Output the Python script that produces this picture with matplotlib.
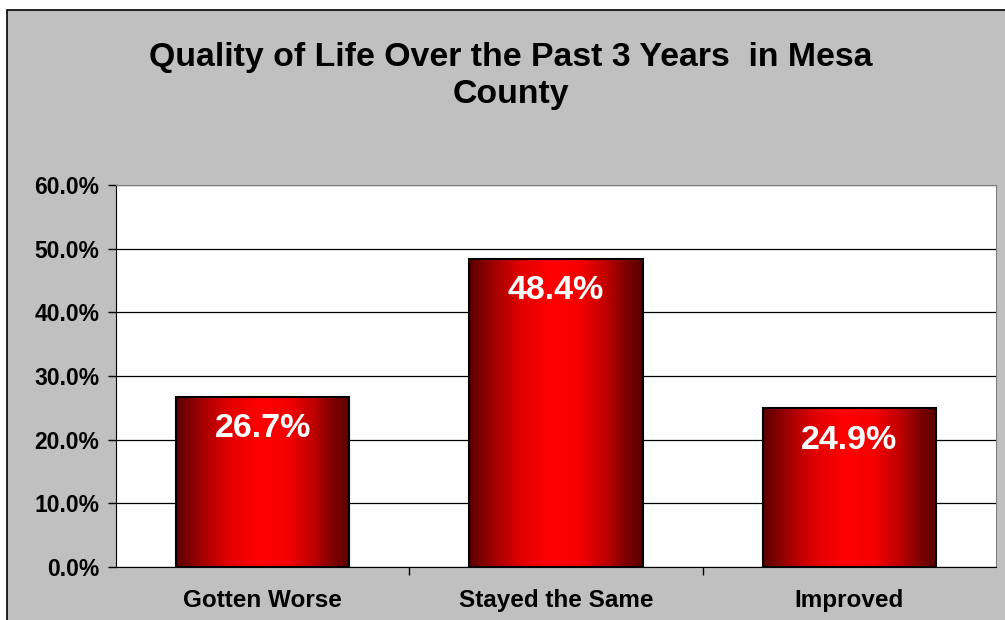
import numpy as np
import matplotlib
matplotlib.use('Agg')
from matplotlib import pyplot as plt
from matplotlib.colors import LinearSegmentedColormap
from matplotlib.patches import Rectangle

categories = ['Gotten Worse', 'Stayed the Same', 'Improved']
values = [26.7, 48.4, 24.9]
yticks = [0, 10, 20, 30, 40, 50, 60]
title = 'Quality of Life Over the Past 3 Years  in Mesa\nCounty'

plt.rcParams['font.family'] = ['Liberation Sans', 'DejaVu Sans']

fig = plt.figure(figsize=(10.05, 6.2), dpi=100)
fig.patch.set_facecolor('white')

# gray chart area with black frame
fig.patches.append(Rectangle((7/1005, -0.05), 1.1, 1 - 10/620 + 0.05,
                             transform=fig.transFigure, facecolor='#c0c0c0',
                             edgecolor='black', linewidth=1.2, zorder=-1))

ax = fig.add_axes([116/1005, 53/620, 880/1005, 382/620])
ax.set_zorder(2)
ax.set_facecolor('white')

x = np.arange(len(categories))
bars = ax.bar(x, values, width=0.59, facecolor='none', edgecolor='black',
              linewidth=1.5, zorder=3)

# horizontal dark-bright-dark red fill like the excel gradient
cmap = LinearSegmentedColormap.from_list('redgrad', [
    (0, '#5a0000'), (0.14, '#a00000'), (0.29, '#e00000'), (0.47, '#ff0000'),
    (0.64, '#f50000'), (0.79, '#c00000'), (0.9, '#800000'), (1, '#5a0000')])
grad = np.linspace(0, 1, 256).reshape(1, -1)
for b in bars:
    bx, by = b.get_x(), b.get_y()
    im = ax.imshow(grad, cmap=cmap, aspect='auto', zorder=2,
                   extent=[bx, bx + b.get_width(), by, by + b.get_height()])
    im.set_clip_path(b)

for xi, v in zip(x, values):
    ax.annotate(f'{v:.1f}%', (xi, v), xytext=(0, -23), textcoords='offset points',
                ha='center', va='center', color='white', fontsize=24.5,
                fontweight='bold', zorder=4)

ax.set_xlim(-0.5, 2.5)
ax.set_ylim(0, 60)
ax.set_yticks(yticks)
ax.set_yticklabels([f'{t:.1f}%' for t in yticks], fontsize=16.5, fontweight='bold')
ax.yaxis.grid(True, color='black', linewidth=0.9)
ax.set_axisbelow(True)

ax.set_xticks([0.5, 1.5], minor=False)
ax.set_xticklabels([])
ax.set_xticks(x, minor=True)
ax.set_xticklabels(categories, minor=True, fontsize=17.5, fontweight='bold')
ax.tick_params(axis='x', which='minor', length=0, pad=16)
ax.tick_params(axis='x', which='major', length=6, width=1)
ax.tick_params(axis='y', length=6, width=1, pad=6)

for side in ['top', 'right']:
    ax.spines[side].set_color('#808080')
for side in ['left', 'bottom']:
    ax.spines[side].set_color('black')

fig.text(511/1005, 1 - 76/620, title, ha='center', va='center',
         fontsize=24.4, fontweight='bold', linespacing=1.27)

fig.savefig('out.png', dpi=100, facecolor=fig.get_facecolor())
